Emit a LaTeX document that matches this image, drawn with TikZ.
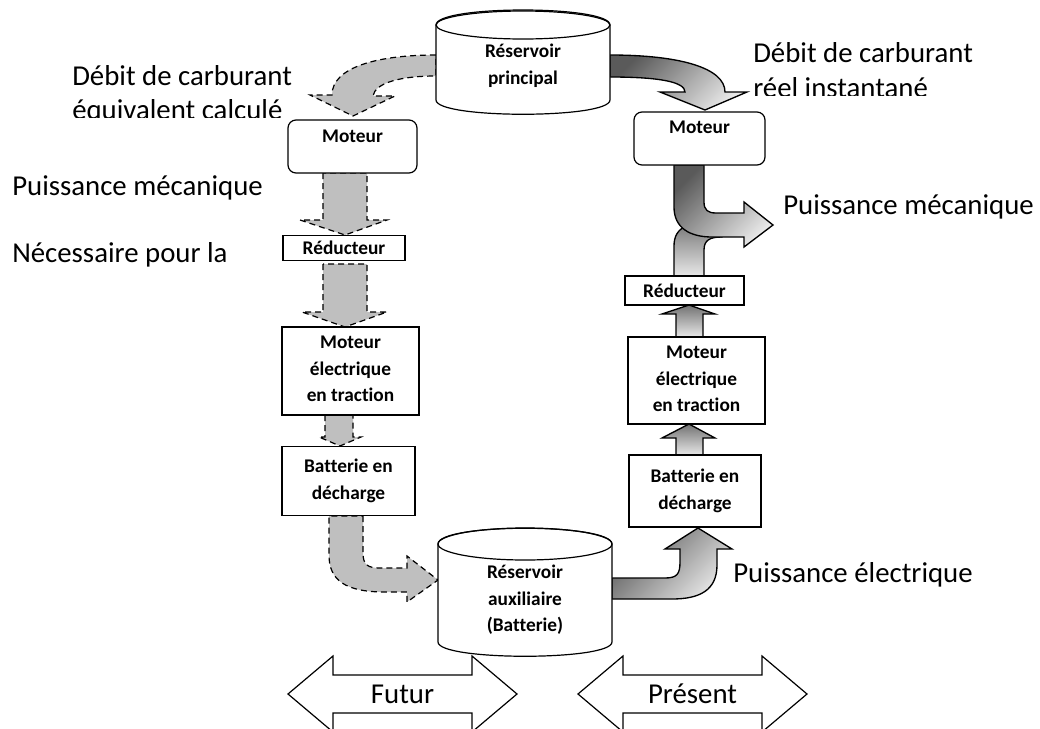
\documentclass[tikz,border=0pt]{standalone}
\usepackage{fontspec}
\setmainfont{Carlito}[Ligatures=NoCommon]
\definecolor{dashfill}{HTML}{BFBFBF}
\definecolor{flowdark}{HTML}{5A5A5A}
\definecolor{flowlight}{HTML}{E8E8E8}
\tikzset{
  dflow/.style={draw=black, fill=dashfill, line width=0.9pt, dash pattern=on 4.5pt off 3pt},
  sflow/.style={draw=black, line width=1pt, top color=flowdark, bottom color=flowlight, shading angle=45},
  vflow/.style={draw=black, line width=1pt, top color=flowdark!85, bottom color=flowlight},
  boxst/.style={draw, line width=0.9pt, fill=white, inner sep=0pt},
  rboxst/.style={boxst, rounded corners=6pt},
  blabel/.style={font=\bfseries\fontsize{14.5}{20}\selectfont, align=center, inner sep=0pt},
  bigtxt/.style={font=\fontsize{21.6}{26}\selectfont, inner sep=0pt, anchor=base west},
  cyl/.style={draw, line width=0.9pt, fill=white},
  dbl/.style={draw, line width=0.9pt, fill=white},
}
\begin{document}
\begin{tikzpicture}[x=0.75pt,y=-0.75pt]
\useasboundingbox (0,0) rectangle (1040,729);
\clip (0,0) rectangle (1040,729);

% ---------- big labels ----------
\node[bigtxt] (t1) at (72,85) {Débit de carburant};
\begin{scope}
  \clip (0,90) rectangle (300,117);
  \node[bigtxt] (t2) at (72,119) {équivalent calculé};
\end{scope}
\node[bigtxt] (t3) at (12,195) {Puissance mécanique};
\node[bigtxt] (t4) at (12,262) {Nécessaire pour la};
\node[bigtxt] (t5) at (753,62) {Débit de carburant};
\begin{scope}
  \clip (740,66) rectangle (1040,95);
  \node[bigtxt] (t6) at (753,97.5) {réel instantané};
\end{scope}
\node[bigtxt] (t7) at (783,214) {Puissance mécanique};
\node[bigtxt] (t8) at (733,582) {Puissance électrique};

% ---------- dashed (futur) flows ----------
\draw[dflow] (436,55) .. controls (375,55) and (332,68) .. (332,95) -- (310,95) -- (353,116) -- (395,96) -- (373,96)
   .. controls (375,83) and (400,76) .. (436,76) -- cycle;
\draw[dflow] (323,173) -- (323,220) -- (300,220) -- (345,235) -- (387,220) -- (367,220) -- (367,173) -- cycle;
\draw[dflow] (323,264) -- (323,312) -- (302,312) -- (345,327) -- (387,312) -- (367,312) -- (367,264) -- cycle;
\draw[dflow] (325,415) -- (325,437) -- (319,437) -- (340,446) -- (361,437) -- (353,437) -- (353,415) -- cycle;
\draw[dflow] (363,516) -- (363,553) .. controls (363,565) and (368,568) .. (380,568) -- (407,568) -- (407,556) -- (438,580)
   -- (407,602) -- (407,592) -- (385,592) .. controls (345,592) and (329,580) .. (329,555) -- (329,516) -- cycle;

% ---------- solid (present) flows ----------
\shade[sflow] (610,55) .. controls (680,55) and (725,68) .. (725,92) -- (747,92) -- (705,110) -- (660,92) -- (685,92)
   .. controls (685,82) and (660,77) .. (610,77) -- cycle;
\shade[vflow] (674,276) -- (674,246) .. controls (674,226) and (690,221) .. (722,221) -- (722,237)
   .. controls (710,237) and (704,240) .. (704,250) -- (704,276) -- cycle;
\shade[sflow] (674,165) -- (674,207) .. controls (674,228) and (690,237) .. (712,237) -- (744,237) -- (744,247)
   -- (773,225) -- (744,202) -- (744,213) -- (716,213) .. controls (708,213) and (704,210) .. (704,202) -- (704,165) -- cycle;
\shade[vflow] (676,337) -- (676,314) -- (662,314) -- (689,305) -- (715,314) -- (703,314) -- (703,337) -- cycle;
\shade[vflow] (676,455) -- (676,438) -- (662,438) -- (689,424) -- (715,438) -- (703,438) -- (703,455) -- cycle;
\shade[sflow] (612,578) -- (665,578) .. controls (677,578) and (680,574) .. (680,562) -- (680,549) -- (665,549)
   -- (698,528) -- (732,549) -- (717,549) -- (717,565) .. controls (717,590) and (700,599) .. (672,599) -- (612,599) -- cycle;

% ---------- cylinders ----------
\path[cyl] (436,25) -- (436,100) .. controls (436,119) and (610,119) .. (610,100) -- (610,25)
   .. controls (610,5) and (436,5) .. (436,25) -- cycle;
\draw[line width=0.9pt] (523,25) ellipse [x radius=87, y radius=14];
\node[blabel] (resp) at (523,66) {Réservoir\\principal};

\path[cyl] (438,544) -- (438,642) .. controls (438,661) and (612,661) .. (612,642) -- (612,544)
   .. controls (612,523) and (438,523) .. (438,544) -- cycle;
\draw[line width=0.9pt] (525,544) ellipse [x radius=87, y radius=16];
\node[blabel] (resa) at (525,600) {Réservoir\\auxiliaire\\(Batterie)};

% ---------- left column boxes ----------
\node[rboxst, minimum width=96.75pt, minimum height=39.75pt] (mL) at (352.5,146.5) {};
\node[blabel] (mLt) at (352.5,136) {Moteur};
\node[boxst, minimum width=91.5pt, minimum height=18.75pt] (rL) at (344,248) {};
\node[blabel] (rLt) at (344,248) {Réducteur};
\node[boxst, minimum width=102.75pt, minimum height=66pt] (eL) at (350.5,371) {};
\node[blabel] (eLt) at (350.5,369) {Moteur\\électrique\\en traction};
\node[boxst, minimum width=99.75pt, minimum height=51.75pt] (bL) at (348.5,481) {};
\node[blabel] (bLt) at (348.5,481) {Batterie en\\décharge};

% ---------- right column boxes ----------
\node[rboxst, minimum width=98.25pt, minimum height=39.75pt] (mR) at (699.5,138.5) {};
\node[blabel] (mRt) at (699.5,127) {Moteur};
\node[boxst, minimum width=89.25pt, minimum height=21.75pt] (rR) at (684.5,290.5) {};
\node[blabel] (rRt) at (684.5,290.5) {Réducteur};
\node[boxst, minimum width=102.75pt, minimum height=65.25pt] (eR) at (696.5,380.5) {};
\node[blabel] (eRt) at (696.5,379) {Moteur\\électrique\\en traction};
\node[boxst, minimum width=99pt, minimum height=54pt] (bR) at (695,491) {};
\node[blabel] (bRt) at (695,491) {Batterie en\\décharge};

% ---------- time arrows ----------
\path[dbl] (288,694) -- (333,656) -- (333,675) -- (472,675) -- (472,656) -- (517,694) -- (472,732) -- (472,713)
   -- (333,713) -- (333,732) -- cycle;
\node[font=\fontsize{21.6}{26}\selectfont, inner sep=0pt, anchor=base] (fut) at (402.5,703) {Futur};
\path[dbl] (578,694) -- (623,656) -- (623,675) -- (762,675) -- (762,656) -- (807,694) -- (762,732) -- (762,713)
   -- (623,713) -- (623,732) -- cycle;
\node[font=\fontsize{21.6}{26}\selectfont, inner sep=0pt, anchor=base] (pres) at (692.5,703) {Présent};
\end{tikzpicture}
\end{document}
